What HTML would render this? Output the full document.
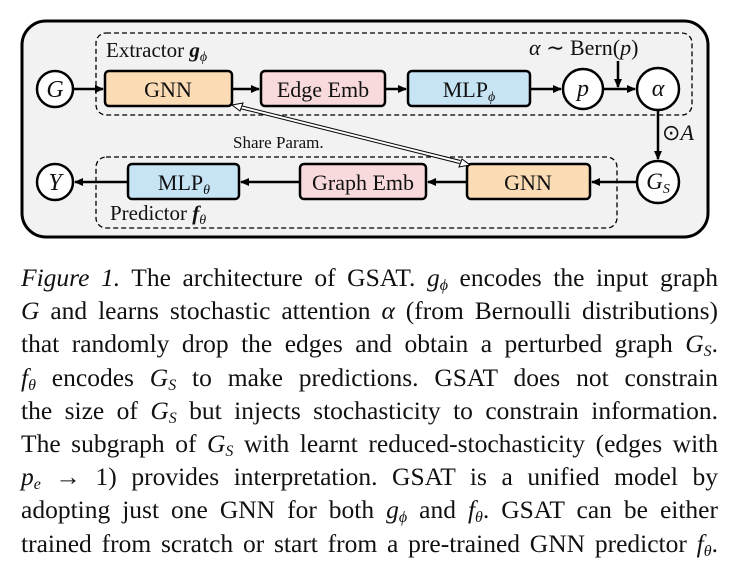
<!DOCTYPE html>
<html><head><meta charset="utf-8"><style>
body{margin:0;background:#fff;width:739px;height:580px;overflow:hidden;font-family:"Liberation Serif",serif;position:relative}
svg{position:absolute;left:0;top:0}
.l{position:absolute;font-family:"Liberation Serif",serif;color:#111;white-space:nowrap;line-height:1}
.c{transform:translateX(-50%);text-align:center}
.cap{position:absolute;left:21px;top:261px;width:697px;font-size:25.5px;line-height:33.2px;color:#111}
.cap div{text-align:justify;text-align-last:justify;white-space:nowrap;height:33.2px}
i{font-style:italic}
sub{font-size:16px;vertical-align:-4px;line-height:0}
.l sub{font-size:14px}
</style></head><body>
<svg width="739" height="250" viewBox="0 0 739 250">
<defs>
<marker id="ah" markerWidth="10" markerHeight="10" refX="8" refY="5" orient="auto" markerUnits="userSpaceOnUse"><path d="M0,1 L9,5 L0,9 Z" fill="#000"/></marker>
</defs>
<rect x="22" y="21" width="686" height="216" rx="24" fill="#f2f2f2" stroke="#000" stroke-width="3"/>
<rect x="96" y="33" width="596" height="82" rx="10" fill="none" stroke="#000" stroke-width="1.3" stroke-dasharray="5,3"/>
<rect x="96" y="157" width="521" height="71" rx="10" fill="none" stroke="#000" stroke-width="1.3" stroke-dasharray="5,3"/>
<g stroke="#000" stroke-width="2.5">
<rect x="105" y="71" width="127" height="35" rx="4" fill="#fbdcb4"/>
<rect x="261" y="71" width="124" height="35" rx="4" fill="#f8dadd"/>
<rect x="408" y="71" width="122" height="35" rx="4" fill="#c6e4f4"/>
<rect x="467" y="164" width="123" height="35" rx="4" fill="#fbdcb4"/>
<rect x="300" y="164" width="126" height="35" rx="4" fill="#f8dadd"/>
<rect x="128" y="164" width="111" height="35" rx="4" fill="#c6e4f4"/>
<circle cx="55" cy="89" r="18" fill="#fff"/>
<circle cx="583" cy="89" r="20" fill="#fff"/>
<circle cx="658" cy="89" r="21" fill="#fff"/>
<circle cx="658" cy="182" r="21" fill="#fff"/>
<circle cx="55" cy="182" r="18" fill="#fff"/>
</g>
<g stroke="#000" stroke-width="2.5" marker-end="url(#ah)">
<line x1="73" y1="89" x2="103" y2="89"/>
<line x1="232" y1="89" x2="259" y2="89"/>
<line x1="385" y1="89" x2="406" y2="89"/>
<line x1="530" y1="89" x2="561" y2="89"/>
<line x1="603" y1="89" x2="635" y2="89"/>
<line x1="618" y1="61" x2="618" y2="87"/>
<line x1="658" y1="110" x2="658" y2="159"/>
<line x1="637" y1="182" x2="592" y2="182"/>
<line x1="467" y1="182" x2="428" y2="182"/>
<line x1="300" y1="182" x2="241" y2="182"/>
<line x1="128" y1="182" x2="75" y2="182"/>
</g>
<g fill="#fff" stroke="#000" stroke-width="1">
<line x1="240" y1="107" x2="460" y2="162" stroke-width="4"/>
<line x1="240" y1="107" x2="460" y2="162" stroke="#fff" stroke-width="2"/>
<path d="M232,105 L243,103 L240,111 Z"/>
<path d="M470,165 L459,167 L462,159 Z"/>
</g>
</svg>
<div class="l c" style="left:168px;top:79px;font-size:22px">GNN</div>
<div class="l c" style="left:323px;top:79px;font-size:22px">Edge Emb</div>
<div class="l c" style="left:469px;top:79px;font-size:22px">MLP<sub><i>ϕ</i></sub></div>
<div class="l c" style="left:528px;top:172px;font-size:22px">GNN</div>
<div class="l c" style="left:363px;top:172px;font-size:22px">Graph Emb</div>
<div class="l c" style="left:184px;top:172px;font-size:22px">MLP<sub><i>θ</i></sub></div>
<div class="l c" style="left:55px;top:78px;font-size:24px"><i>G</i></div>
<div class="l c" style="left:583px;top:77px;font-size:24px"><i>p</i></div>
<div class="l c" style="left:658px;top:77px;font-size:24px"><i>α</i></div>
<div class="l c" style="left:55px;top:171px;font-size:24px"><i>Y</i></div>
<div class="l c" style="left:658px;top:170px;font-size:23px"><i>G</i><sub><i>S</i></sub></div>
<div class="l" style="left:106px;top:40px;font-size:21px">Extractor <i><b>g</b></i><sub><i>ϕ</i></sub></div>
<div class="l" style="left:110px;top:203px;font-size:21px">Predictor <i><b>f</b></i><sub><i>θ</i></sub></div>
<div class="l" style="left:529px;top:37px;font-size:22px"><i>α</i> ∼ Bern(<i>p</i>)</div>
<div class="l" style="left:662px;top:122px;font-size:22px">⊙<i>A</i></div>
<div class="l" style="left:233px;top:134px;font-size:17px">Share Param.</div>
<div class="cap">
<div><i>Figure 1.</i> The architecture of GSAT. <i>g</i><sub><i>ϕ</i></sub> encodes the input graph</div>
<div><i>G</i> and learns stochastic attention <i>α</i> (from Bernoulli distributions)</div>
<div>that randomly drop the edges and obtain a perturbed graph <i>G</i><sub><i>S</i></sub>.</div>
<div><i>f</i><sub><i>θ</i></sub> encodes <i>G</i><sub><i>S</i></sub> to make predictions. GSAT does not constrain</div>
<div>the size of <i>G</i><sub><i>S</i></sub> but injects stochasticity to constrain information.</div>
<div>The subgraph of <i>G</i><sub><i>S</i></sub> with learnt reduced-stochasticity (edges with</div>
<div><i>p</i><sub><i>e</i></sub> → 1) provides interpretation. GSAT is a unified model by</div>
<div>adopting just one GNN for both <i>g</i><sub><i>ϕ</i></sub> and <i>f</i><sub><i>θ</i></sub>. GSAT can be either</div>
<div>trained from scratch or start from a pre-trained GNN predictor <i>f</i><sub><i>θ</i></sub>.</div>
</div>
</body></html>
